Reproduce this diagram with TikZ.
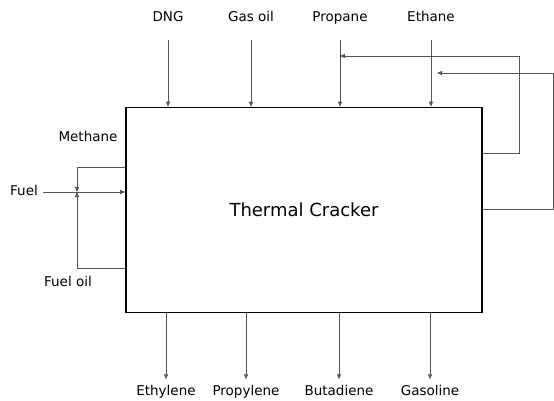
\documentclass[tikz,border=0pt]{standalone}
\usepackage{fontspec}
\setmainfont{DejaVu Sans}
\usetikzlibrary{arrows.meta, positioning, calc}
\definecolor{linegray}{RGB}{85,85,85}

\begin{document}
\begin{tikzpicture}[
  x=1pt, y=-1pt,
  cbox/.style={rectangle, draw=black, line width=1.6pt,
               minimum width=356pt, minimum height=205pt,
               font=\fontsize{18}{20}\selectfont},
  lbl/.style={font=\fontsize{13.5}{15}\selectfont, inner sep=2pt,
              text height=10pt, text depth=3pt},
  arr/.style={-{Triangle[length=5pt,width=4pt]}, linegray, line width=0.8pt},
  feed/.style={arr, shorten <=13pt},
  prod/.style={arr, shorten >=4pt}
]
\useasboundingbox (0,0) rectangle (554,400);

\node[cbox] (crack) at (304,210) {Thermal Cracker};

% feeds
\node[lbl] (dng)  at (168,18) {DNG};
\node[lbl] (gas)  at (251,18) {Gas oil};
\node[lbl] (prop) at (340,18) {Propane};
\node[lbl] (eth)  at (431,18) {Ethane};
\foreach \n in {dng, gas, prop, eth}
  \draw[feed] (\n.south) -- (\n.south |- crack.north);

% recycles
\coordinate (rc1) at (519,56);
\coordinate (rc2) at (553,73);
\draw[arr] ([yshift=-47pt]crack.north east) -| (rc1) -- (rc1 -| prop.south);
\draw[arr] ([yshift=-103pt]crack.north east) -| (rc2) -- ([xshift=6pt]rc2 -| eth.south);

% fuel
\node[lbl] (fuel)  at (24,192) {Fuel};
\node[lbl] (meth)  at (88,138) {Methane};
\node[lbl] (fueloil) at (68,283) {Fuel oil};
\coordinate (mix) at (77,192);
\draw[arr, shorten <=3pt] (fuel.east) -- (crack.west |- fuel);
\draw[arr] ([yshift=-61pt]crack.north west) -| (mix);
\draw[arr] ([yshift=-162pt]crack.north west) -| (mix);

% products
\node[lbl] (ethy) at (166,392) {Ethylene};
\node[lbl] (prpy) at (246,392) {Propylene};
\node[lbl] (buta) at (339,392) {Butadiene};
\node[lbl] (gsln) at (430,392) {Gasoline};
\foreach \n in {ethy, prpy, buta, gsln}
  \draw[prod] (crack.south -| \n.north) -- (\n.north);
\end{tikzpicture}
\end{document}
